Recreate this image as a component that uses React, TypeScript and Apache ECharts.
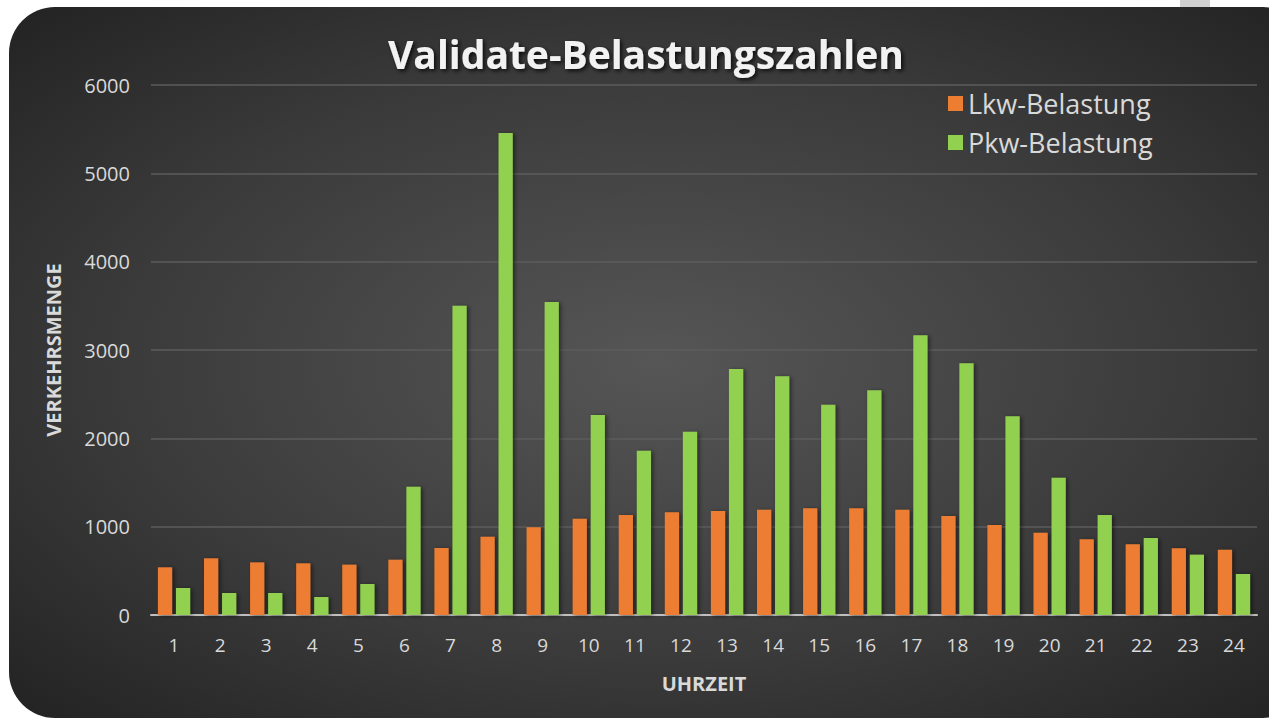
import React, { useEffect, useRef } from "react";
import * as echarts from "echarts";

const hours = ["1","2","3","4","5","6","7","8","9","10","11","12","13","14","15","16","17","18","19","20","21","22","23","24"];
const lkw = [540, 642, 596, 585, 570, 626, 758, 887, 993, 1090, 1132, 1162, 1177, 1192, 1208, 1208, 1192, 1121, 1019, 932, 857, 800, 755, 740];
const pkw = [306, 249, 249, 204, 351, 1453, 3500, 5457, 3544, 2264, 1860, 2075, 2785, 2702, 2381, 2544, 3166, 2849, 2249, 1555, 1132, 872, 683, 464];
const yTicks = [0, 1000, 2000, 3000, 4000, 5000, 6000];

const FONT = "'Open Sans', 'Noto Sans', sans-serif";

export default function App() {
  const ref = useRef<HTMLDivElement>(null);
  useEffect(() => {
    if (!ref.current) return;
    const chart = echarts.init(ref.current, null, { renderer: "svg" });
    chart.setOption({
      animation: false,
      backgroundColor: "#ffffff",
      graphic: [
        {
          type: "rect",
          z: -10,
          silent: true,
          shape: { x: 9, y: 7, width: 1300, height: 711, r: 46 },
          style: {
            fill: new echarts.graphic.RadialGradient(0.5, 0.5, 0.7, [
              { offset: 0, color: "#565656" },
              { offset: 0.6, color: "#3a3a3a" },
              { offset: 1, color: "#232323" },
            ]),
          },
        },
        {
          type: "rect",
          z: -9,
          silent: true,
          shape: { x: 1180, y: 0, width: 30, height: 7 },
          style: { fill: "#d0d0d0" },
        },
      ],
      title: {
        text: "Validate-Belastungszahlen",
        left: 383,
        top: 29,
        textStyle: {
          color: "#f2f2f2",
          fontSize: 39,
          fontWeight: "bold",
          fontFamily: FONT,
          textShadowColor: "rgba(0,0,0,0.8)",
          textShadowBlur: 4,
          textShadowOffsetX: 2,
          textShadowOffsetY: 2,
        },
      },
      legend: {
        orient: "vertical",
        left: 943,
        top: 85,
        itemWidth: 15,
        itemHeight: 15,
        itemGap: 12,
        icon: "rect",
        textStyle: { color: "#d9d9d9", fontSize: 27, fontFamily: FONT },
        data: ["Lkw-Belastung", "Pkw-Belastung"],
      },
      grid: { left: 151, right: 12, top: 85, bottom: 105 },
      xAxis: {
        type: "category",
        data: hours,
        name: "UHRZEIT",
        nameLocation: "middle",
        nameGap: 58,
        nameTextStyle: { color: "#d9d9d9", fontSize: 20, fontWeight: "bold", fontFamily: FONT },
        axisLine: { lineStyle: { color: "#bfbfbf", width: 2 } },
        axisTick: { show: false },
        axisLabel: { color: "#d9d9d9", fontSize: 19, margin: 20, fontFamily: FONT },
      },
      yAxis: {
        type: "value",
        min: yTicks[0],
        max: yTicks[yTicks.length - 1],
        interval: 1000,
        name: "VERKEHRSMENGE",
        nameLocation: "middle",
        nameGap: 88,
        nameRotate: 90,
        nameTextStyle: { color: "#d9d9d9", fontSize: 20, fontWeight: "bold", fontFamily: FONT },
        axisLine: { show: false },
        axisTick: { show: false },
        axisLabel: {
          color: "#d9d9d9",
          fontSize: 20,
          margin: 21,
          fontFamily: FONT,
          formatter: (v: number) => String(v),
        },
        splitLine: { lineStyle: { color: "#5c5c5c", width: 1.5 } },
      },
      series: [
        {
          name: "Lkw-Belastung",
          type: "bar",
          data: lkw,
          barGap: "27%",
          barCategoryGap: "30%",
          itemStyle: {
            color: "#ED7D31",
            shadowColor: "rgba(0,0,0,0.5)",
            shadowBlur: 4,
            shadowOffsetX: 2,
            shadowOffsetY: 1,
          },
        },
        {
          name: "Pkw-Belastung",
          type: "bar",
          data: pkw,
          barGap: "27%",
          barCategoryGap: "30%",
          itemStyle: {
            color: "#92D050",
            shadowColor: "rgba(0,0,0,0.5)",
            shadowBlur: 4,
            shadowOffsetX: 2,
            shadowOffsetY: 1,
          },
        },
      ],
    });
    return () => chart.dispose();
  }, []);
  return (
    <div
      ref={ref}
      style={{ position: "fixed", left: 0, top: 0, width: 1269, height: 720 }}
    />
  );
}
